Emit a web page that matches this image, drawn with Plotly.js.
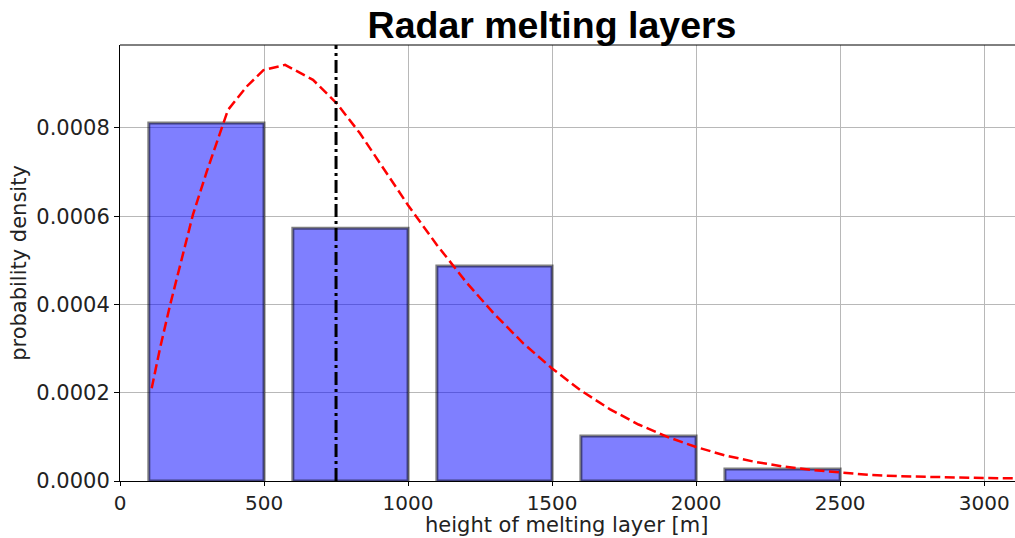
<!DOCTYPE html>
<html>
<head>
<meta charset="utf-8">
<script src="https://cdn.plot.ly/plotly-3.0.1.min.js"></script>
<style>html,body{margin:0;padding:0;background:#fff;}#chart{width:1015px;height:538px;}</style>
</head>
<body>
<div id="chart"></div>
<script>
// Histogram bins (left edge, drawn width) and densities
const binStarts = [100, 600, 1100, 1600, 2100];
const binWidth = 400;
const densities = [0.000811, 0.000573, 0.000487, 0.000102, 0.0000272];

// Fitted PDF curve (red dashed)
const fitX = [110, 139, 174, 214, 253, 301, 347, 375, 440, 498, 573, 670, 752, 833, 1000, 1100, 1200, 1300, 1400, 1500, 1600, 1700, 1800, 1900, 2000, 2100, 2200, 2300, 2400, 2500, 2600, 2700, 2800, 2900, 3000, 3107];
const fitY = [0.000210, 0.000301, 0.000399, 0.000505, 0.000603, 0.000701, 0.000789, 0.000841, 0.000894, 0.000931, 0.000943, 0.000909, 0.000856, 0.000788, 0.000625, 0.000535, 0.000452, 0.000378, 0.000312, 0.000255, 0.000205, 0.000163, 0.000128, 0.000100, 0.000077, 0.000058, 0.000044, 0.000033, 0.000025, 0.000019, 0.000014, 0.0000110, 0.0000090, 0.0000076, 0.0000066, 0.0000060];

// Median / marker line
const markerHeight = 750;

const xTicks = [0, 500, 1000, 1500, 2000, 2500, 3000];
const yTicks = [0, 0.0002, 0.0004, 0.0006, 0.0008];
const xRange = [0, 3107];
const yRange = [0, 0.000988];

const xTitle = 'height of melting layer [m]';
const yTitle = 'probability density';
const chartTitle = 'Radar melting layers';

const traces = [
  {
    type: 'bar',
    x: binStarts,
    y: densities,
    width: binWidth,
    offset: 0,
    marker: {color: 'rgba(0,0,255,0.5)', line: {color: 'rgba(0,0,0,0.5)', width: 3}},
    hoverinfo: 'skip'
  },
  {
    type: 'scatter',
    mode: 'lines',
    x: fitX,
    y: fitY,
    line: {color: 'rgb(255,0,0)', width: 2.5, dash: '10px,4.5px'},
    hoverinfo: 'skip'
  },
  {
    type: 'scatter',
    mode: 'lines',
    x: [markerHeight, markerHeight],
    y: [yRange[0], yRange[1]],
    line: {color: 'black', width: 3, dash: '13px,4px,3px,4px'},
    hoverinfo: 'skip'
  }
];

const fontFam = 'DejaVu Sans, sans-serif';
const layout = {
  width: 1015, height: 538,
  margin: {l: 120, r: 0, t: 45, b: 57},
  paper_bgcolor: '#fff', plot_bgcolor: '#fff',
  showlegend: false,
  bargap: 0,
  title: {
    text: '<b>' + chartTitle + '</b>',
    font: {family: 'Liberation Sans, Arial, sans-serif', size: 37.5, color: '#000'},
    x: 552/1015, xanchor: 'center', xref: 'container',
    y: 1 - 25/538, yanchor: 'middle', yref: 'container'
  },
  xaxis: {
    range: xRange, tickvals: xTicks, ticktext: xTicks.map(String),
    showgrid: true, gridcolor: '#b8b8b8', gridwidth: 1,
    zeroline: false, showline: true, linecolor: '#000', linewidth: 1,
    ticks: 'outside', ticklen: 4, tickcolor: '#000',
    tickfont: {family: fontFam, size: 20, color: '#222'}
  },
  yaxis: {
    range: yRange, tickvals: yTicks, ticktext: yTicks.map(v => v.toFixed(4)),
    showgrid: true, gridcolor: '#b8b8b8', gridwidth: 1,
    zeroline: false, showline: true, linecolor: '#000', linewidth: 1,
    ticks: 'outside', ticklen: 5, tickcolor: '#000',
    tickfont: {family: fontFam, size: 21, color: '#222'},
    title: {text: yTitle, font: {family: fontFam, size: 21, color: '#222'}, standoff: 3}
  },
  annotations: [
    {text: xTitle, xref: 'paper', yref: 'paper', x: 0.4985, y: 0, xanchor: 'center', yanchor: 'middle',
     yshift: -44, borderpad: 0, showarrow: false, font: {family: fontFam, size: 21, color: '#222'}}
  ],
  shapes: [
    {type: 'line', xref: 'paper', yref: 'paper', x0: 0, x1: 1, y0: 1, y1: 1, line: {color: '#000', width: 1}}
  ]
};

Plotly.newPlot('chart', traces, layout, {staticPlot: true, displayModeBar: false});
</script>
</body>
</html>
